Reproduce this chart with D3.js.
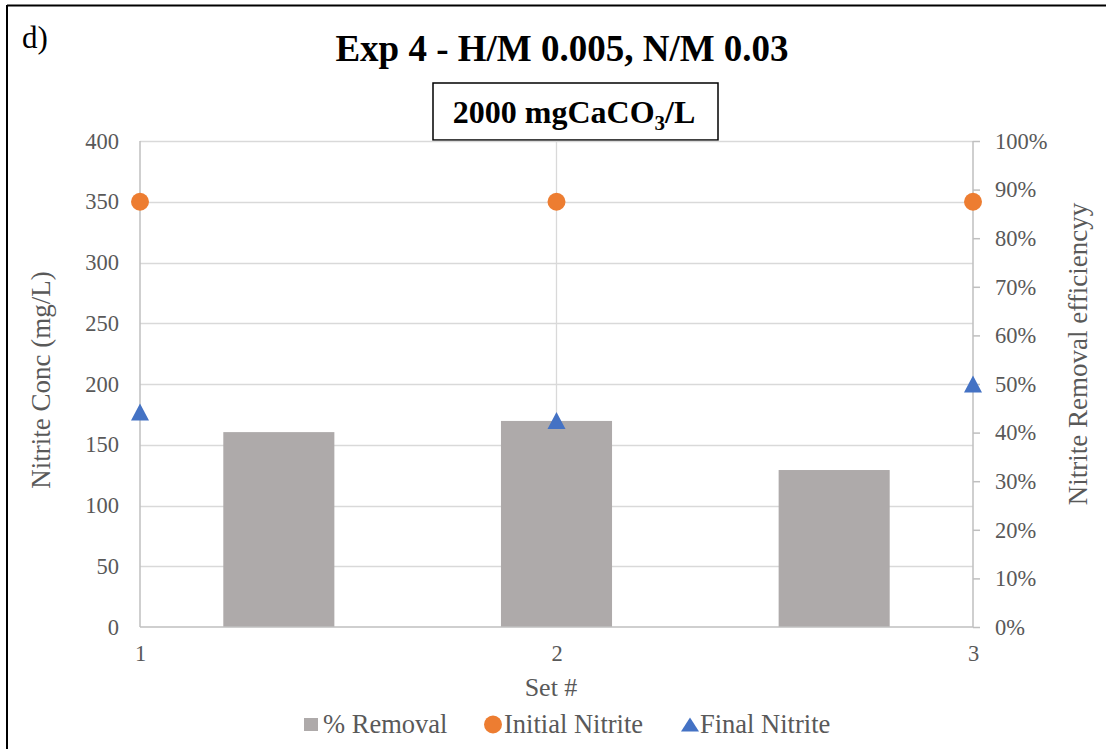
<!DOCTYPE html>
<html>
<head>
<meta charset="utf-8">
<script src="https://cdn.jsdelivr.net/npm/d3@7"></script>
<style>
  html, body { margin: 0; padding: 0; background: #fff; }
  svg { display: block; }
  text { font-family: "Liberation Serif", "Times New Roman", serif; }
</style>
</head>
<body>
<svg id="chart" width="1106" height="749"></svg>
<script>
// ---- data ----
const sets = [1, 2, 3];
const removalPct = [40.1, 42.4, 32.3];          // % Removal (right axis)
const initialNitrite = [350, 350, 350];        // mg/L (left axis)
const finalNitrite = [177, 170, 200];          // mg/L (left axis)
const leftTicks = [0, 50, 100, 150, 200, 250, 300, 350, 400];
const rightTicks = [0, 10, 20, 30, 40, 50, 60, 70, 80, 90, 100];
const seriesNames = ["% Removal", "Initial Nitrite", "Final Nitrite"];
const colors = { bar: "#AEAAAA", init: "#ED7D31", fin: "#4472C4" };

const svg = d3.select("#chart");
const m = { left: 140, right: 973, top: 141, bottom: 627 };

// scales
const xLin = d3.scaleLinear().domain([1, 3]).range([m.left, m.right]);
const xBand = d3.scaleBand().domain(sets).range([m.left, m.right]).paddingInner(0.6).paddingOuter(0.3);
const yL = d3.scaleLinear().domain([0, 400]).range([m.bottom, m.top]);
const yR = d3.scaleLinear().domain([0, 100]).range([m.bottom, m.top]);

// bbox-centred triangle (Excel style)
function triPath(w, h) {
  return `M0,${-h / 2}L${w / 2},${h / 2}L${-w / 2},${h / 2}Z`;
}

// border (top + left)
svg.append("line").attr("x1", 7).attr("x2", 1106).attr("y1", 5.5).attr("y2", 5.5).attr("stroke", "#000").attr("stroke-width", 2);
svg.append("line").attr("x1", 7).attr("x2", 7).attr("y1", 5).attr("y2", 749).attr("stroke", "#000").attr("stroke-width", 2);

// label d)
svg.append("text").attr("x", 22).attr("y", 48).attr("font-size", 31).attr("fill", "#000").text("d)");

// title
svg.append("text").attr("x", 562).attr("y", 61).attr("text-anchor", "middle")
  .attr("font-size", 37).attr("font-weight", "bold").attr("fill", "#000")
  .text("Exp 4 - H/M 0.005, N/M 0.03");

// subtitle box
svg.append("rect").attr("x", 433).attr("y", 83).attr("width", 285).attr("height", 57)
  .attr("fill", "#fff").attr("stroke", "#000").attr("stroke-width", 1.5);
const st = svg.append("text").attr("x", 574).attr("y", 123).attr("text-anchor", "middle")
  .attr("font-size", 32).attr("font-weight", "bold").attr("fill", "#000");
st.append("tspan").text("2000 mgCaCO");
st.append("tspan").attr("font-size", 21).attr("dy", 7).text("3");
st.append("tspan").attr("dy", -7).text("/L");

// horizontal gridlines
svg.append("g").selectAll("line").data(leftTicks.filter(d => d > 0)).join("line")
  .attr("x1", m.left).attr("x2", m.right)
  .attr("y1", d => Math.round(yL(d)) + 0.5).attr("y2", d => Math.round(yL(d)) + 0.5)
  .attr("stroke", "#D9D9D9").attr("stroke-width", 1.3);

// vertical gridline at set 2
svg.append("line").attr("x1", xLin(2)).attr("x2", xLin(2)).attr("y1", m.top).attr("y2", m.bottom)
  .attr("stroke", "#D9D9D9").attr("stroke-width", 1.3);

// bars
svg.append("g").selectAll("rect").data(sets).join("rect")
  .attr("x", d => xBand(d)).attr("width", xBand.bandwidth())
  .attr("y", (d, i) => yR(removalPct[i])).attr("height", (d, i) => yR(0) - yR(removalPct[i]))
  .attr("fill", colors.bar);

// axes lines
const axisCol = "#BFBFBF";
svg.append("line").attr("x1", m.left).attr("x2", m.left).attr("y1", m.top).attr("y2", m.bottom).attr("stroke", axisCol).attr("stroke-width", 1.5);
svg.append("line").attr("x1", m.right).attr("x2", m.right).attr("y1", m.top).attr("y2", m.bottom).attr("stroke", axisCol).attr("stroke-width", 1.5);
svg.append("line").attr("x1", m.left).attr("x2", m.right).attr("y1", m.bottom).attr("y2", m.bottom).attr("stroke", axisCol).attr("stroke-width", 1.5);

// left axis
const gL = svg.append("g").attr("transform", `translate(${m.left},0)`)
  .call(d3.axisLeft(yL).tickValues(leftTicks).tickSize(0).tickPadding(21));
gL.select(".domain").remove();
gL.selectAll("text").attr("font-size", 22.5).attr("fill", "#595959").attr("font-family", "Liberation Serif");

// right axis
const gR = svg.append("g").attr("transform", `translate(${m.right},0)`)
  .call(d3.axisRight(yR).tickValues(rightTicks).tickSize(7).tickPadding(15).tickFormat(d => d + "%"));
gR.select(".domain").remove();
gR.selectAll("line").attr("stroke", axisCol).attr("stroke-width", 1.5);
gR.selectAll("text").attr("font-size", 22.5).attr("fill", "#595959").attr("font-family", "Liberation Serif");

// bottom axis
const gB = svg.append("g").attr("transform", `translate(0,${m.bottom})`)
  .call(d3.axisBottom(xLin).tickValues(sets).tickSize(0).tickPadding(18).tickFormat(d3.format("d")));
gB.select(".domain").remove();
gB.selectAll("text").attr("font-size", 22.5).attr("fill", "#595959").attr("font-family", "Liberation Serif");

// axis titles
svg.append("text").attr("transform", "translate(50,380) rotate(-90)").attr("text-anchor", "middle")
  .attr("font-size", 27).attr("fill", "#595959").text("Nitrite Conc (mg/L)");
svg.append("text").attr("transform", "translate(1087,354) rotate(-90)").attr("text-anchor", "middle")
  .attr("font-size", 27).attr("fill", "#595959").text("Nitrite Removal efficiencyy");
svg.append("text").attr("x", 551).attr("y", 696).attr("text-anchor", "middle")
  .attr("font-size", 26).attr("fill", "#595959").text("Set #");

// initial nitrite circles
svg.append("g").selectAll("circle").data(sets).join("circle")
  .attr("cx", d => xLin(d)).attr("cy", (d, i) => yL(initialNitrite[i])).attr("r", 9)
  .attr("fill", colors.init);

// final nitrite triangles
svg.append("g").selectAll("path").data(sets).join("path")
  .attr("transform", (d, i) => `translate(${xLin(d)},${yL(finalNitrite[i])})`)
  .attr("d", triPath(18, 17)).attr("fill", colors.fin);

// legend
const lg = svg.append("g");
lg.append("rect").attr("x", 304).attr("y", 718).attr("width", 14).attr("height", 13).attr("fill", colors.bar);
lg.append("text").attr("x", 323).attr("y", 733).attr("font-size", 26.5).attr("fill", "#595959").text(seriesNames[0]);
lg.append("circle").attr("cx", 493).attr("cy", 724.5).attr("r", 9).attr("fill", colors.init);
lg.append("text").attr("x", 504).attr("y", 733).attr("font-size", 26.5).attr("fill", "#595959").text(seriesNames[1]);
lg.append("path").attr("transform", "translate(690,724.5)").attr("d", triPath(18, 14)).attr("fill", colors.fin);
lg.append("text").attr("x", 700).attr("y", 733).attr("font-size", 26.5).attr("fill", "#595959").text(seriesNames[2]);
</script>
</body>
</html>
